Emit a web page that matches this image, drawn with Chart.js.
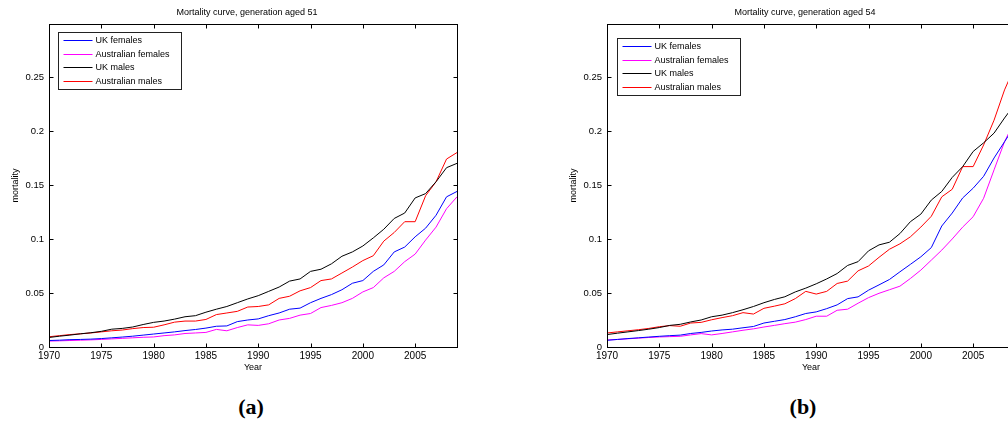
<!DOCTYPE html>
<html>
<head>
<meta charset="utf-8">
<script src="https://cdn.jsdelivr.net/npm/chart.js@4.4.1/dist/chart.umd.min.js"></script>
<style>
  html, body { margin: 0; padding: 0; background: #fff; overflow: hidden; }
  body { width: 1008px; height: 437px; position: relative; }
  #wrapA { position: absolute; left: 0; top: 0; width: 504px; height: 380px; }
  #wrapB { position: absolute; left: 504px; top: 0; width: 520px; height: 380px; }
  .tag { position: absolute; top: 394px; font: bold 22px "Liberation Serif", "DejaVu Serif", serif; transform: translateX(-50%); color: #000; }
</style>
</head>
<body>
<div id="wrapA"><canvas id="chartA" width="504" height="380"></canvas></div>
<div id="wrapB"><canvas id="chartB" width="520" height="380"></canvas></div>
<div class="tag" style="left:251px">(a)</div>
<div class="tag" style="left:803px">(b)</div>
<script>
// years on the x axis
const years = [1970,1971,1972,1973,1974,1975,1976,1977,1978,1979,
  1980,1981,1982,1983,1984,1985,1986,1987,1988,1989,
  1990,1991,1992,1993,1994,1995,1996,1997,1998,1999,
  2000,2001,2002,2003,2004,2005,2006,2007,2008,2009]

const seriesNames = ["UK females", "Australian females", "UK males", "Australian males"]
const seriesColors = ["#0000ff", "#ff00ff", "#000000", "#ff0000"]

// (a) generation aged 51
const ukFemales51 = [0.0060,0.0063,0.0068,0.0070,0.0073,0.0078,0.0085,0.0092,0.0100,0.0110,
  0.0120,0.0130,0.0140,0.0152,0.0162,0.0175,0.0192,0.0195,0.0235,0.0250,
  0.0260,0.0290,0.0315,0.0350,0.0360,0.0410,0.0450,0.0485,0.0530,0.0590,
  0.0615,0.0700,0.0760,0.0880,0.0925,0.1020,0.1100,0.1220,0.1390,0.1440]
const auFemales51 = [0.0055,0.0057,0.0060,0.0063,0.0066,0.0070,0.0075,0.0080,0.0085,0.0090,
  0.0093,0.0105,0.0112,0.0125,0.0130,0.0135,0.0163,0.0150,0.0180,0.0205,
  0.0200,0.0215,0.0250,0.0265,0.0295,0.0310,0.0365,0.0385,0.0410,0.0450,
  0.0510,0.0550,0.0640,0.0700,0.0790,0.0860,0.0990,0.1110,0.1280,0.1390]
const ukMales51 = [0.0088,0.0100,0.0110,0.0122,0.0132,0.0145,0.0165,0.0172,0.0185,0.0208,
  0.0228,0.0240,0.0258,0.0280,0.0290,0.0322,0.0350,0.0375,0.0410,0.0445,
  0.0475,0.0515,0.0555,0.0610,0.0630,0.0700,0.0720,0.0770,0.0840,0.0880,
  0.0935,0.1010,0.1090,0.1190,0.1240,0.1380,0.1420,0.1530,0.1660,0.1700]
const auMales51 = [0.0095,0.0105,0.0115,0.0122,0.0130,0.0140,0.0150,0.0157,0.0170,0.0180,
  0.0183,0.0205,0.0230,0.0240,0.0240,0.0255,0.0300,0.0315,0.0330,0.0370,
  0.0375,0.0390,0.0450,0.0470,0.0520,0.0550,0.0615,0.0630,0.0685,0.0740,
  0.0800,0.0845,0.0980,0.1060,0.1160,0.1160,0.1400,0.1530,0.1740,0.1800]

// (b) generation aged 54
const ukFemales54 = [0.0062,0.0070,0.0078,0.0085,0.0092,0.0099,0.0105,0.0110,0.0125,0.0135,
  0.0148,0.0158,0.0165,0.0178,0.0190,0.0222,0.0238,0.0254,0.0280,0.0310,
  0.0325,0.0355,0.0390,0.0448,0.0464,0.0526,0.0575,0.0625,0.0696,0.0765,
  0.0835,0.0920,0.1120,0.1240,0.1380,0.1470,0.1580,0.1750,0.1900,0.2050]
const auFemales54 = [0.0065,0.0070,0.0076,0.0082,0.0088,0.0093,0.0096,0.0099,0.0112,0.0124,
  0.0112,0.0125,0.0140,0.0155,0.0168,0.0185,0.0200,0.0216,0.0230,0.0254,
  0.0285,0.0285,0.0340,0.0350,0.0405,0.0457,0.0497,0.0530,0.0563,0.0634,
  0.0712,0.0804,0.0897,0.1000,0.1110,0.1206,0.1377,0.1640,0.1900,0.2100]
const ukMales54 = [0.0115,0.0128,0.0140,0.0152,0.0165,0.0180,0.0200,0.0210,0.0232,0.0250,
  0.0280,0.0295,0.0318,0.0345,0.0375,0.0410,0.0440,0.0465,0.0510,0.0545,
  0.0585,0.0630,0.0680,0.0755,0.0790,0.0890,0.0945,0.0970,0.1050,0.1160,
  0.1230,0.1360,0.1440,0.1570,0.1670,0.1810,0.1890,0.1980,0.2120,0.2250]
const auMales54 = [0.0130,0.0140,0.0150,0.0160,0.0172,0.0188,0.0198,0.0192,0.0222,0.0228,
  0.0252,0.0272,0.0290,0.0318,0.0305,0.0358,0.0378,0.0400,0.0448,0.0515,
  0.0490,0.0515,0.0588,0.0610,0.0705,0.0750,0.0830,0.0905,0.0955,0.1020,
  0.1110,0.1210,0.1390,0.1460,0.1670,0.1670,0.1870,0.2100,0.2380,0.2600]

const xTicks = [1970, 1975, 1980, 1985, 1990, 1995, 2000, 2005]
const xTickLabels = ["1970", "1975", "1980", "1985", "1990", "1995", "2000", "2005"]
const yTicks = [0, 0.05, 0.1, 0.15, 0.2, 0.25]
const yTickLabels = ["0", "0.05", "0.1", "0.15", "0.2", "0.25"]

const FONT = '"Liberation Sans", Arial, sans-serif'

// MATLAB style box: frame, inward ticks, title and legend inside the axes
const matlabFrame = {
  id: "matlabFrame",
  afterDatasetsDraw(chart, args, opts) {
    const { ctx, chartArea: a, scales } = chart
    const L = Math.round(a.left) + 0.5, R = Math.round(a.right) + 0.5
    const T = Math.round(a.top) + 0.5, B = Math.round(a.bottom) + 0.5
    ctx.save()
    ctx.strokeStyle = "#000"
    ctx.lineWidth = 1
    ctx.strokeRect(L, T, R - L, B - T)
    ctx.beginPath()
    xTicks.forEach(v => {
      const px = Math.round(scales.x.getPixelForValue(v)) + 0.5
      ctx.moveTo(px, B); ctx.lineTo(px, B - 4)
      ctx.moveTo(px, T); ctx.lineTo(px, T + 4)
    })
    yTicks.forEach(v => {
      const py = Math.round(scales.y.getPixelForValue(v)) + 0.5
      ctx.moveTo(L, py); ctx.lineTo(L + 4, py)
      ctx.moveTo(R, py); ctx.lineTo(R - 4, py)
    })
    ctx.stroke()

    // title
    ctx.fillStyle = "#000"
    ctx.font = "9px " + FONT
    ctx.textAlign = "center"
    ctx.textBaseline = "middle"
    ctx.fillText(opts.title, (a.left + a.right) / 2 - 6, 13)

    // legend box
    const bx = Math.round(a.left + opts.legendX) + 0.5
    const by = Math.round(a.top + opts.legendY) + 0.5
    ctx.fillStyle = "#fff"
    ctx.fillRect(bx, by, 123, 57)
    ctx.strokeStyle = "#222"
    ctx.strokeRect(bx, by, 123, 57)
    ctx.textAlign = "left"
    seriesNames.forEach((name, i) => {
      const ry = Math.round(by + 7.3 + i * 13.8) + 0.5
      ctx.beginPath()
      ctx.strokeStyle = seriesColors[i]
      ctx.lineWidth = 1
      ctx.moveTo(bx + 5, ry)
      ctx.lineTo(bx + 34, ry)
      ctx.stroke()
      ctx.fillStyle = "#000"
      ctx.fillText(name, bx + 37, ry)
    })
    ctx.restore()
  },
}

function makeChart(id, title, values, yWidth, yTitlePad, padRight, legendX, legendY) {
  const ctx = document.getElementById(id).getContext("2d")
  return new Chart(ctx, {
    type: "line",
    data: {
      datasets: values.map((vals, i) => ({
        label: seriesNames[i],
        data: years.map((yr, j) => ({ x: yr, y: vals[j] })),
        borderColor: seriesColors[i],
        borderWidth: 1,
        pointRadius: 0,
        tension: 0,
        fill: false,
      })),
    },
    options: {
      responsive: false,
      animation: false,
      devicePixelRatio: 1,
      layout: { padding: { top: 24, right: padRight, left: 0, bottom: 0 } },
      plugins: {
        legend: { display: false },
        title: { display: false },
        tooltip: { enabled: false },
        matlabFrame: { title: title, legendX: legendX, legendY: legendY },
      },
      scales: {
        x: {
          type: "linear",
          min: 1970,
          max: 2009,
          grid: { display: false, drawTicks: false },
          border: { display: false },
          afterBuildTicks: s => { s.ticks = xTicks.map(v => ({ value: v })) },
          afterFit: s => { s.height = 33 },
          ticks: {
            autoSkip: false,
            maxRotation: 0,
            padding: 3,
            color: "#000",
            font: { size: 10, family: FONT },
            callback: (v, i) => xTickLabels[i],
          },
          title: {
            display: true,
            text: "Year",
            color: "#000",
            font: { size: 9, family: FONT },
            padding: { top: 0, bottom: 6.6 },
          },
        },
        y: {
          min: 0,
          max: 0.299,
          grid: { display: false, drawTicks: false },
          border: { display: false },
          afterBuildTicks: s => { s.ticks = yTicks.map(v => ({ value: v })) },
          afterFit: s => { s.width = yWidth },
          ticks: {
            padding: 5,
            color: "#000",
            font: { size: 9.5, family: FONT },
            callback: (v, i) => yTickLabels[i],
          },
          title: {
            display: true,
            text: "mortality",
            color: "#000",
            font: { size: 9, family: FONT },
            padding: { top: yTitlePad, bottom: 0 },
          },
        },
      },
    },
    plugins: [matlabFrame],
  })
}

makeChart("chartA", "Mortality curve, generation aged 51",
  [ukFemales51, auFemales51, ukMales51, auMales51], 49, 10, 47, 9, 8)
makeChart("chartB", "Mortality curve, generation aged 54",
  [ukFemales54, auFemales54, ukMales54, auMales54], 103, 64.6, 9, 10, 14)
</script>
</body>
</html>
